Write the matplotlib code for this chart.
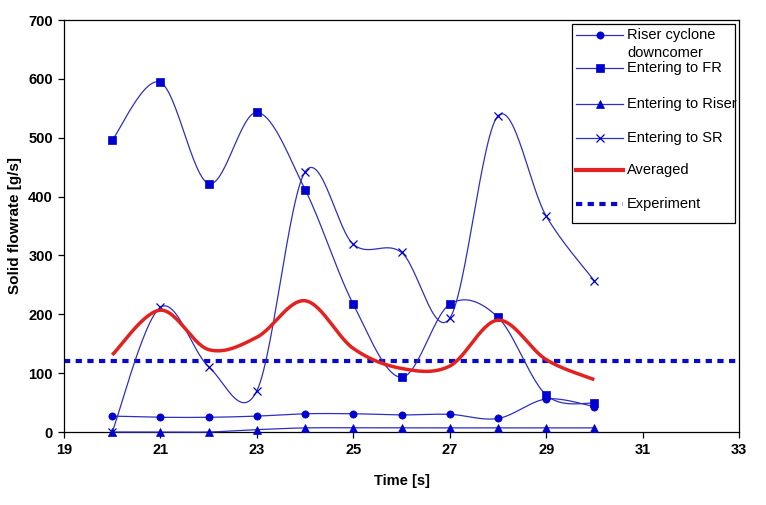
import numpy as np
import matplotlib
matplotlib.use("Agg")
import matplotlib.pyplot as plt
from matplotlib.lines import Line2D
from matplotlib.patches import Rectangle

plt.rcParams['font.family'] = ['Liberation Sans', 'DejaVu Sans']

# ---- data ----
time = [20, 21, 22, 23, 24, 25, 26, 27, 28, 29, 30]
riser_cyclone = [27, 25, 25, 27, 31, 31, 29, 30, 23, 56, 43]
entering_fr = [496, 594, 422, 543, 412, 217, 93, 217, 195, 63, 49]
entering_riser = [0, 0, 0, 4, 7, 7, 7, 7, 7, 7, 7]
entering_sr = [0, 212, 111, 70, 442, 319, 305, 193, 537, 367, 257]
averaged = [131, 207, 140, 161, 223, 142, 108, 112, 190, 123, 89]
experiment = 120

x_ticks = [19, 21, 23, 25, 27, 29, 31, 33]
y_ticks = [0, 100, 200, 300, 400, 500, 600, 700]

LINE_C = '#2f2fc0'
MARK_C = '#0000d0'
RED = '#e3221f'


def smooth(x, y, n=30):
    """Excel-like smoothed line (Catmull-Rom Bezier) through the points."""
    x = np.asarray(x, float)
    y = np.asarray(y, float)
    px = np.concatenate([[x[0]], x, [x[-1]]])
    py = np.concatenate([[y[0]], y, [y[-1]]])
    xs, ys = [], []
    t = np.linspace(0, 1, n)
    for i in range(1, len(px) - 2):
        p0 = np.array([px[i], py[i]])
        p3 = np.array([px[i + 1], py[i + 1]])
        c1 = p0 + (np.array([px[i + 1], py[i + 1]]) - np.array([px[i - 1], py[i - 1]])) / 6
        c2 = p3 - (np.array([px[i + 2], py[i + 2]]) - np.array([px[i], py[i]])) / 6
        b = ((1 - t) ** 3)[:, None] * p0 + (3 * (1 - t) ** 2 * t)[:, None] * c1 \
            + (3 * (1 - t) * t ** 2)[:, None] * c2 + (t ** 3)[:, None] * p3
        xs.extend(b[:, 0]); ys.extend(b[:, 1])
    return np.array(xs), np.array(ys)


W, H = 766, 505
fig = plt.figure(figsize=(W / 100, H / 100), dpi=100)
L, R, T, B = 64, 739, 20, 432
ax = fig.add_axes([L / W, 1 - B / H, (R - L) / W, (B - T) / H])

series = [
    (riser_cyclone, 'o', 5.2),
    (entering_fr, 's', 5.2),
    (entering_riser, '^', 6),
    (entering_sr, 'x', 6),
]
for vals, mk, ms in series:
    sx, sy = smooth(time, vals)
    ax.plot(sx, sy, color=LINE_C, lw=0.9, clip_on=False, zorder=3)
    ax.plot(time, vals, linestyle='none', marker=mk, ms=ms, color=MARK_C,
            mec=MARK_C, mew=0.9 if mk == 'x' else 0.5, clip_on=False, zorder=4)

sx, sy = smooth(time, averaged)
ax.plot(sx, sy, color=RED, lw=2.5, zorder=5, solid_capstyle='butt')
ax.axhline(experiment, color='#0a0acc', lw=3, linestyle=(0, (1.5, 1.3)), zorder=2)

ax.set_xlim(19, 33)
ax.set_ylim(0, 700)
ax.set_xticks(x_ticks)
ax.set_yticks(y_ticks)
ax.tick_params(direction='out', length=4, width=0.9, labelsize=10.5, pad=4)
for lab in ax.get_xticklabels() + ax.get_yticklabels():
    lab.set_fontweight('bold')
for s in ax.spines.values():
    s.set_linewidth(0.9)
ax.set_xlabel('Time [s]', fontsize=10.5, fontweight='bold')
ax.set_ylabel('Solid flowrate [g/s]', fontsize=11, fontweight='bold')
ax.xaxis.set_label_coords((401.5 - L) / (R - L), (B - 474) / (B - T))
ax.yaxis.set_label_coords((22 - L) / (R - L), 0.5)

# ---- legend (drawn manually in figure pixels) ----
def fx(px):
    return px / W


def fy(py):
    return 1 - py / H


tf = fig.transFigure
fig.patches.append(Rectangle((fx(572), fy(223)), fx(735) - fx(572), fy(24) - fy(223),
                             transform=tf, fill=True, facecolor='white',
                             edgecolor='black', lw=0.9, zorder=10))
entries = [
    ('Riser cyclone', 35, dict(color=LINE_C, lw=0.9, marker='o', ms=5.2, mfc=MARK_C, mec=MARK_C)),
    ('Entering to FR', 68, dict(color=LINE_C, lw=0.9, marker='s', ms=5.2, mfc=MARK_C, mec=MARK_C)),
    ('Entering to Riser', 104, dict(color=LINE_C, lw=0.9, marker='^', ms=6, mfc=MARK_C, mec=MARK_C)),
    ('Entering to SR', 138, dict(color=LINE_C, lw=0.9, marker='x', ms=6, mec=MARK_C, mew=0.9)),
    ('Averaged', 170, dict(color=RED, lw=3)),
    ('Experiment', 204, dict(color='#0a0acc', lw=3, linestyle=(0, (1.5, 1.3)))),
]
for label, yy, kw in entries:
    marker = kw.pop('marker', None)
    ms = kw.pop('ms', None)
    mfc = kw.pop('mfc', MARK_C)
    mec = kw.pop('mec', MARK_C)
    mew = kw.pop('mew', 0.5)
    ln = Line2D([fx(576), fx(623)], [fy(yy), fy(yy)], transform=tf, zorder=11, **kw)
    fig.lines.append(ln)
    if marker is not None:
        m = Line2D([fx(600)], [fy(yy)], transform=tf, zorder=12, linestyle='none',
                   marker=marker, ms=ms, mfc=mfc, mec=mec, mew=mew)
        fig.lines.append(m)
    fig.text(fx(627), fy(yy), label, transform=tf, fontsize=10.5,
             va='center', ha='left', zorder=12)
fig.text(fx(627), fy(53), 'downcomer', transform=tf, fontsize=10.5,
         va='center', ha='left', zorder=12)

fig.savefig('out.png', dpi=100)
